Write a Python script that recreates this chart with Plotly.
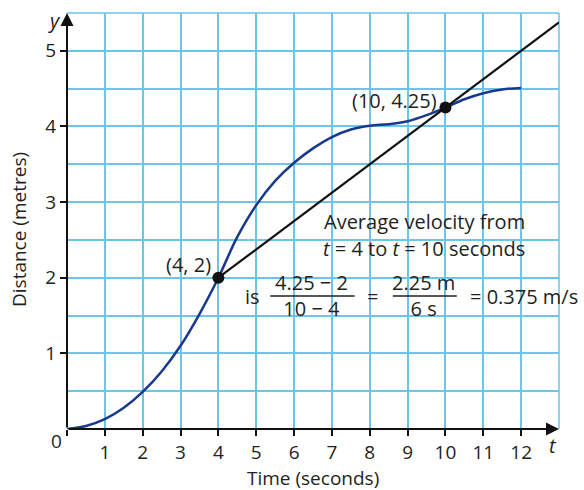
import plotly.graph_objects as go

# ---- data ----
time_s = [0, 0.5, 1, 1.5, 2, 2.5, 3, 3.5, 4, 4.5, 5, 5.5, 6, 6.5, 7, 7.5, 8, 8.5, 9, 9.5, 10, 10.5, 11, 11.5, 12]
distance_m = [0, 0.04, 0.13, 0.28, 0.49, 0.76, 1.10, 1.52, 2.0, 2.54, 2.96, 3.28, 3.52, 3.71, 3.86, 3.96, 4.01, 4.03, 4.07, 4.15, 4.25, 4.36, 4.44, 4.49, 4.51]
secant_t = [4, 13]
secant_d = [2, 5.375]
point_t = [4, 10]
point_d = [2, 4.25]
x_ticks = [0, 1, 2, 3, 4, 5, 6, 7, 8, 9, 10, 11, 12]
x_ticktext = ["", "1", "2", "3", "4", "5", "6", "7", "8", "9", "10", "11", "12"]
y_ticks = [1, 2, 3, 4, 5]

FONT = "Open Sans"
FS = 20
TXT = "#231f20"
GRID = "#6cc5e6"
CURVE = "#173a8c"

fig = go.Figure()
fig.add_trace(go.Scatter(x=time_s, y=distance_m, mode="lines",
                         line=dict(color=CURVE, width=2.5, shape="spline", smoothing=1.0),
                         hoverinfo="skip", showlegend=False))
fig.add_trace(go.Scatter(x=secant_t, y=secant_d, mode="lines",
                         line=dict(color="#111111", width=2.2), showlegend=False))
fig.add_trace(go.Scatter(x=point_t, y=point_d, mode="markers",
                         marker=dict(color="#111111", size=12), showlegend=False))

fig.update_layout(
    width=584, height=490,
    margin=dict(l=67, r=25, t=13, b=61),
    paper_bgcolor="white", plot_bgcolor="white",
    font=dict(family=FONT, size=FS, color=TXT),
    showlegend=False,
)
fig.update_xaxes(range=[0, 13], tickvals=x_ticks, ticktext=x_ticktext,
                 showgrid=True, gridcolor=GRID, gridwidth=1.5,
                 zeroline=False, showline=False,
                 ticks="outside", ticklen=6, tickwidth=1.5, tickcolor="#111111",
                 tickfont=dict(family=FONT, size=19, color=TXT))
fig.update_yaxes(range=[0, 5.5], tickvals=y_ticks,
                 showgrid=True, gridcolor=GRID, gridwidth=1.5,
                 minor=dict(dtick=0.5, showgrid=True, gridcolor=GRID, gridwidth=1.5),
                 zeroline=False, showline=False,
                 ticks="outside", ticklen=6, tickwidth=1.5, tickcolor="#111111",
                 tickfont=dict(family=FONT, size=19, color=TXT))

# top and right grid border
fig.add_shape(type="line", xref="x domain", yref="y domain", x0=0, x1=1, y0=1, y1=1,
              line=dict(color=GRID, width=1.5), layer="below")
fig.add_shape(type="line", xref="x domain", yref="y domain", x0=1, x1=1, y0=0, y1=1,
              line=dict(color=GRID, width=1.5), layer="below")

# axes with arrows
fig.add_annotation(x=0, y=5.5, ax=0, ay=0, xref="x", yref="y", axref="x", ayref="y",
                   showarrow=True, arrowhead=2, arrowsize=1.3, arrowwidth=2, arrowcolor="#111111", text="")
fig.add_annotation(x=13, y=0, ax=0, ay=0, xref="x", yref="y", axref="x", ayref="y",
                   showarrow=True, arrowhead=2, arrowsize=1.3, arrowwidth=2, arrowcolor="#111111", text="")

# fraction bars
fig.add_shape(type="line", xref="x", yref="y", x0=5.37, x1=7.6, y0=1.76, y1=1.76,
              line=dict(color=TXT, width=1.5))
fig.add_shape(type="line", xref="x", yref="y", x0=8.61, x1=10.3, y0=1.76, y1=1.76,
              line=dict(color=TXT, width=1.5))

def txt(x, y, s, xref="x", yref="y", xanchor="center", size=FS, **kw):
    fig.add_annotation(x=x, y=y, xref=xref, yref=yref, text=s, showarrow=False,
                       xanchor=xanchor, yanchor="middle", font=dict(family=FONT, size=size, color=TXT), **kw)

txt(3.2, 2.17, "(4, 2)")
txt(8.66, 4.34, "(10, 4.25)")
txt(6.74, 2.74, "Average velocity from", xanchor="left")
txt(6.7, 2.39, "<i>t</i> = 4 to <i>t</i> = 10 seconds", xanchor="left")
txt(4.89, 1.75, "is")
txt(6.47, 1.76, "4.25 − 2<br>10 − 4")
txt(8.08, 1.75, "=")
txt(9.43, 1.76, "2.25 m<br>6 s")
txt(10.6, 1.75, "= 0.375 m/s", xanchor="left")

# axis labels
txt((54 - 67) / 492, (429 - 20) / 416, "<i>y</i>", xref="paper", yref="paper")
txt((553 - 67) / 492, (429 - 445) / 416, "<i>t</i>", xref="paper", yref="paper")
txt((56 - 67) / 492, (429 - 441) / 416, "0", xref="paper", yref="paper", size=19)
txt(0.5, (429 - 478) / 416, "Time (seconds)", xref="paper", yref="paper", size=19)
txt((19 - 67) / 492, (429 - 230) / 416, "Distance (metres)", xref="paper", yref="paper", textangle=-90, size=19)

fig.write_html("out.html", config={"displayModeBar": False},
               post_script="document.body.style.margin='0';document.body.style.padding='0';")
